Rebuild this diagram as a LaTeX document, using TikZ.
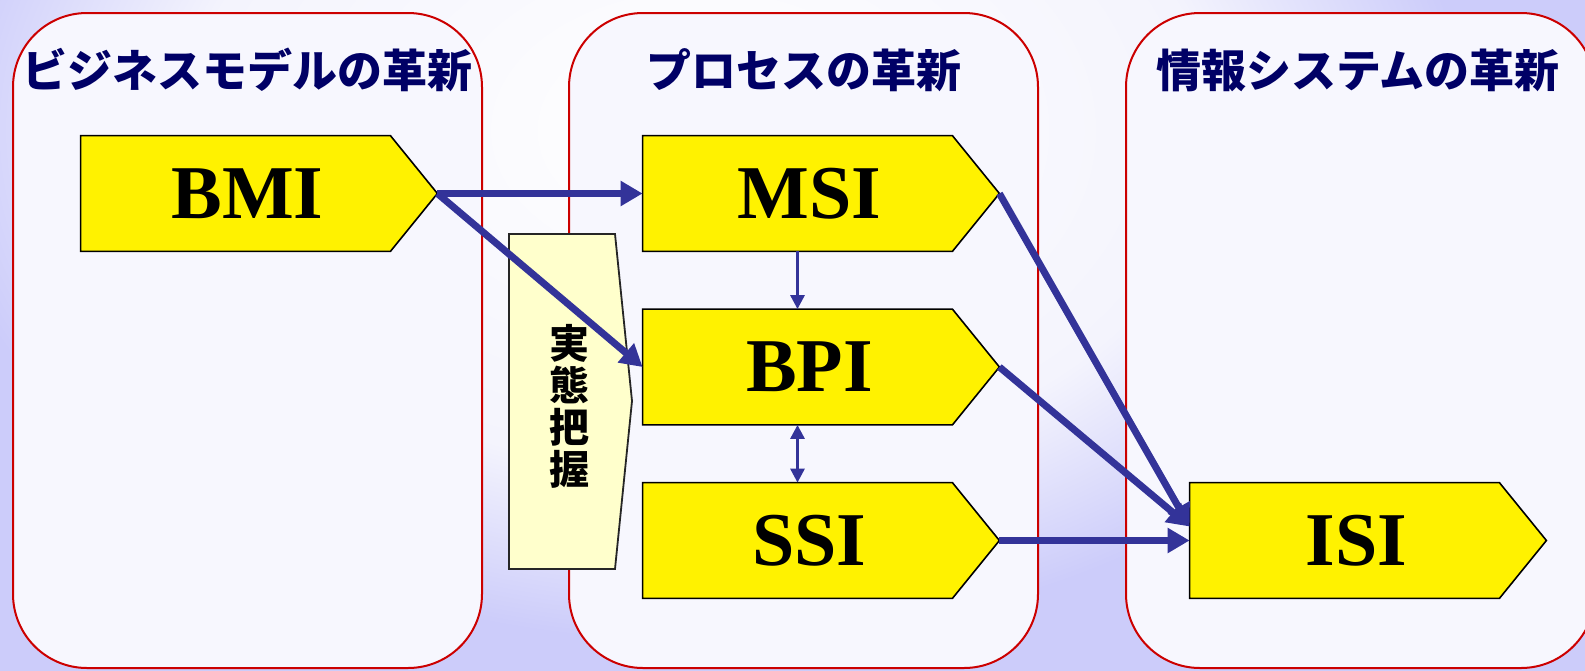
\documentclass[tikz,border=0pt]{standalone}
\usepackage{fontspec}
\setmainfont{Liberation Serif}
\newfontfamily\jp{Noto Sans CJK JP}
\usetikzlibrary{arrows.meta,calc}
\definecolor{lav}{RGB}{204,204,250}
\definecolor{pale}{RGB}{244,244,253}
\definecolor{panelfill}{RGB}{247,247,254}
\definecolor{panelred}{RGB}{204,0,0}
\definecolor{navy}{RGB}{0,0,102}
\definecolor{arrowblue}{RGB}{51,51,153}
\definecolor{lightyel}{RGB}{255,255,204}
\pgfdeclareradialshading{bgshade}{\pgfpoint{0bp}{0bp}}{color(0bp)=(white); color(170bp)=(pale); color(255bp)=(lav); color(600bp)=(lav)}
\newcommand\drawpent[1]{%
  \coordinate (#1tip) at ($(#1.east)+(47,0)$);
  \path[pentshape] (#1.north west) -- (#1.north east) -- (#1tip) -- (#1.south east) -- (#1.south west) -- cycle;}
\begin{document}
\begin{tikzpicture}[x=0.5pt,y=-0.5pt,
  panel/.style={draw=panelred, line width=1pt, fill=panelfill, rounded corners=37pt},
  title/.style={text=navy, font=\jp\bfseries\fontsize{22.5}{24}\selectfont, inner sep=0pt},
  body/.style={minimum width=154.5pt, minimum height=57.5pt, inner sep=0pt},
  pentshape/.style={draw=black, line width=0.8pt, fill=yellow, line join=miter},
  lbl/.style={font=\bfseries\fontsize{38}{40}\selectfont, inner sep=0pt},
  jbox/.style={draw=black!85, line width=0.9pt, fill=lightyel},
  jtext/.style={font=\jp\bfseries\fontsize{20}{21}\selectfont, align=center, inner sep=0pt},
  bigarrow/.style={draw=arrowblue, line width=3.5pt, -{Triangle[length=11pt,width=12pt]}},
  thinarrow/.style={draw=arrowblue, line width=1.5pt, -{Triangle[length=7pt,width=7pt]}},
  thinboth/.style={draw=arrowblue, line width=1.5pt, {Triangle[length=7pt,width=7pt]}-{Triangle[length=7pt,width=7pt]}}]
\useasboundingbox (0,0) rectangle (1585,670);
\clip (0,0) rectangle (1585,670);
\fill[lav] (0,0) rectangle (1585,670);
\node[inner sep=0pt, outer sep=0pt] (bg) at (700,130) {\scalebox{1.5}[1]{\pgfuseshading{bgshade}}};
% panels
\path[panel] (13,13) rectangle (482,668);
\path[panel] (569,13) rectangle (1038,668);
\path[panel] (1126,13) rectangle (1595,668);
% titles
\node[title] (t1) at (247.5,70) {ビジネスモデルの革新};
\node[title] (t2) at (803.5,70) {プロセスの革新};
\node[title] (t3) at (1358,70) {情報システムの革新};
% jittai box
\path[jbox] (509,234) -- (615,234) -- (632,401) -- (615,569) -- (509,569) -- cycle;
\node[jtext] (jt) at (569,406) {実\\態\\把\\握};
% pentagons
\node[body] (BMI) at (235.5,193.5) {};
\node[body] (MSI) at (797.5,193.5) {};
\node[body] (BPI) at (797.5,367) {};
\node[body] (SSI) at (797.5,540.5) {};
\node[body] (ISI) at (1344.5,540.5) {};
\drawpent{BMI}\drawpent{MSI}\drawpent{BPI}\drawpent{SSI}\drawpent{ISI}
\node[lbl] (lBMI) at ($(BMI)+(12,0)$) {BMI};
\node[lbl] (lMSI) at ($(MSI)+(12,0)$) {MSI};
\node[lbl] (lBPI) at ($(BPI)+(12,0)$) {BPI};
\node[lbl] (lSSI) at ($(SSI)+(12,0)$) {SSI};
\node[lbl] (lISI) at ($(ISI)+(12,0)$) {ISI};
% connectors
\coordinate (isiin) at ($(ISI.west)+(0,-14)$);
\draw[bigarrow] (BMItip) -- (MSI.west);
\draw[bigarrow] (BMItip) -- (BPI.west);
\draw[thinarrow] (MSI.south) -- (BPI.north);
\draw[thinboth] (BPI.south) -- (SSI.north);
\draw[bigarrow] (MSItip) -- (isiin);
\draw[bigarrow] (BPItip) -- (isiin);
\draw[bigarrow] (SSItip) -- (ISI.west);
\end{tikzpicture}
\end{document}
